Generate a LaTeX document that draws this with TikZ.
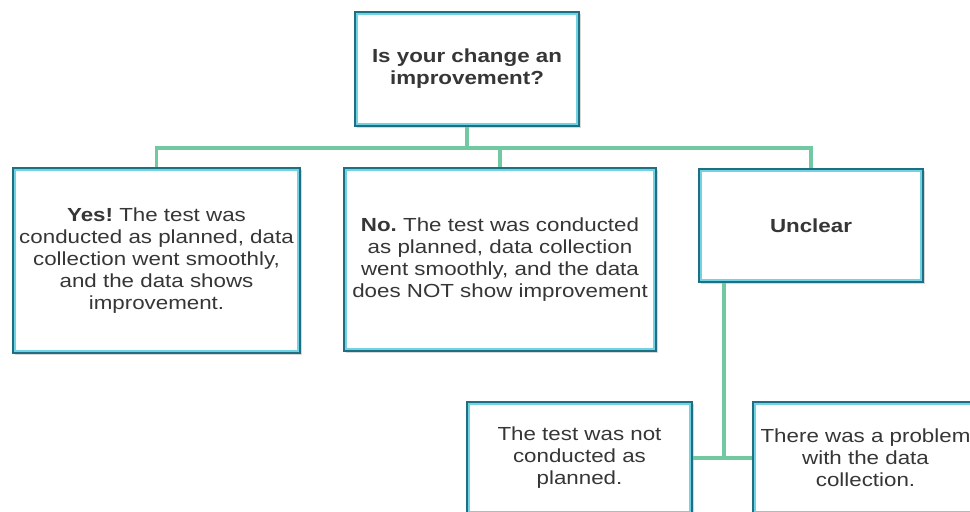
\documentclass[tikz,border=0pt]{standalone}
\usepackage{fontspec}
\setmainfont{Liberation Sans}[FakeStretch=1.18]
\usetikzlibrary{shadows}
\definecolor{boxdark}{HTML}{1F6E82}
\definecolor{boxlight}{HTML}{6FD3E3}
\definecolor{connc}{HTML}{72C8A0}
\definecolor{txt}{HTML}{363636}
\tikzset{
  box/.style={draw=boxdark, line width=1.9pt, fill=white, inner sep=0pt, align=center,
    text=txt, font=\fontsize{14.2}{16.5}\selectfont,
    drop shadow={opacity=0.3, shadow xshift=1.5pt, shadow yshift=-1.8pt},
    path picture={\draw[boxlight, line width=4.2pt] (path picture bounding box.south west) rectangle (path picture bounding box.north east);}},
  conn/.style={draw=connc, line width=2.4pt}
}
\begin{document}
\frenchspacing
\begin{tikzpicture}[x=0.75pt, y=-0.75pt]
\clip (0,0) rectangle (970,511);
\fill[white] (0,0) rectangle (970,511);
\coordinate (bus) at (0,148);
\coordinate (drop) at (724,459);
\node[box, minimum width=168pt, minimum height=85.5pt] (top) at (467,69) {\bfseries Is your change an\\\bfseries improvement?};
\node[box, minimum width=215.25pt, minimum height=138.75pt] (yes) at (156.5,260.5) {\textbf{Yes!} The test was\\conducted as planned, data\\collection went smoothly,\\and the data shows\\improvement.};
\node[box, minimum width=234pt, minimum height=137.25pt] (no) at (500,259.5) {\textbf{No.} The test was conducted\\as planned, data collection\\went smoothly, and the data\\does NOT show improvement};
\node[box, minimum width=168pt, minimum height=84.75pt] (unc) at (811,225.5) {\bfseries Unclear};
\node[box, minimum width=168.75pt, minimum height=84pt] (nc) at (579.5,458) {The test was not\\conducted as\\planned.};
\node[box, minimum width=168.75pt, minimum height=84pt] (prob) at (865.5,458) {There was a problem\\with the data\\collection.};
\draw[conn] (top.south) -- (top.south |- bus);
\draw[conn] (yes.north) -- (yes.north |- bus) -- (unc.north |- bus) -- (unc.north);
\draw[conn] (no.north) -- (no.north |- bus);
\draw[conn] (unc.south -| drop) -- (drop);
\draw[conn] (nc.east) -- (prob.west);
\end{tikzpicture}
\end{document}
